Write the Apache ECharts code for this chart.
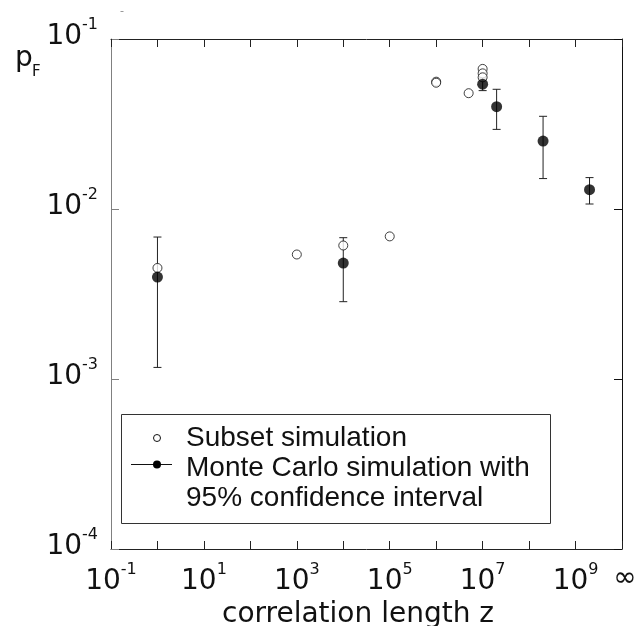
<!DOCTYPE html>
<html>
<head>
<meta charset="utf-8">
<script src="https://cdn.jsdelivr.net/npm/echarts@6/dist/echarts.min.js"></script>
<style>
  html, body { margin: 0; padding: 0; background: #fff; }
  #chart { width: 641px; height: 626px; }
</style>
</head>
<body>
<div id="chart"></div>
<script>
// Subset simulation estimates (correlation length z, failure probability pF)
const subsetZ  = [1, 1e3, 1e4, 1e5, 1e6, 1e6, 5e6, 1e7, 1e7, 1e7];
const subsetPF = [4.5e-3, 5.4e-3, 6.1e-3, 6.9e-3, 0.0561, 0.0553, 0.048, 0.0667, 0.0628, 0.0595];

// Monte Carlo estimates with 95% confidence bounds
const mcZ    = [1, 1e4, 1e7, 2e7, 2e8, 2e9];
const mcPF   = [3.98e-3, 4.81e-3, 0.0542, 0.040, 0.0251, 0.013];
const mcLow  = [1.17e-3, 2.85e-3, 0.0497, 0.0294, 0.0151, 0.0107];
const mcHigh = [6.84e-3, 6.78e-3, 0.059, 0.0506, 0.0351, 0.0153];

// Decade exponents that carry a tick label; the last x decade stands for z = infinity
const xLabelExps = [-1, 1, 3, 5, 7, 9];
const xInfExp = 10;
const yLabelExps = [-4, -3, -2, -1];

const lg = Math.log10;
const FONT = 'DejaVu Sans';
const INK = '#111';

const powRich = {
  b:   { fontFamily: FONT, fontSize: 28, lineHeight: 34, verticalAlign: 'bottom', color: INK },
  s:   { fontFamily: FONT, fontSize: 16, lineHeight: 12, verticalAlign: 'top', color: INK },
  inf: { fontFamily: FONT, fontSize: 28, lineHeight: 34, color: INK, padding: [0, 0, 0, 6] }
};

function xLabel(v) {
  const e = Math.round(v);
  if (e === xInfExp) return '{inf|∞}';
  return xLabelExps.indexOf(e) >= 0 ? '{b|10}{s|' + e + '}' : '';
}
function yLabel(v) {
  const e = Math.round(v);
  return yLabelExps.indexOf(e) >= 0 ? '{b|10}{s|' + e + '}' : '';
}

const subsetData = subsetZ.map((z, i) => [lg(z), lg(subsetPF[i])]);
const mcData = mcZ.map((z, i) => [lg(z), lg(mcPF[i])]);
const barData = mcZ.map((z, i) => [lg(z), lg(mcLow[i]), lg(mcHigh[i])]);

function renderBar(params, api) {
  const x = api.value(0);
  const lo = api.coord([x, api.value(1)]);
  const hi = api.coord([x, api.value(2)]);
  const cap = 4;
  const st = { stroke: '#222', lineWidth: 1 };
  return {
    type: 'group',
    children: [
      { type: 'line', shape: { x1: lo[0], y1: lo[1], x2: hi[0], y2: hi[1] }, style: st },
      { type: 'line', shape: { x1: lo[0] - cap, y1: lo[1], x2: lo[0] + cap, y2: lo[1] }, style: st },
      { type: 'line', shape: { x1: hi[0] - cap, y1: hi[1], x2: hi[0] + cap, y2: hi[1] }, style: st }
    ]
  };
}

function frameTick(color) {
  return { show: true, inside: true, length: 8, lineStyle: { color: color, width: 1 } };
}
function frameLine(color) {
  return { show: true, onZero: false, lineStyle: { color: color, width: 1 } };
}

const option = {
  animation: false,
  backgroundColor: '#fff',
  grid: { left: 111, right: 19, top: 39, bottom: 77, containLabel: false, outerBoundsMode: 'none' },
  xAxis: [
    {
      type: 'value', min: -1, max: 10, interval: 1, position: 'bottom',
      axisLine: frameLine('#222'),
      axisTick: frameTick('#222'),
      splitLine: { show: false },
      axisLabel: { formatter: xLabel, margin: 13, rich: powRich },
      name: 'correlation length z', nameLocation: 'middle', nameGap: 47,
      nameTextStyle: { fontFamily: FONT, fontSize: 28, color: INK, padding: [0, 17, 0, 0] }
    },
    {
      type: 'value', min: -1, max: 10, interval: 1, position: 'top',
      axisLine: frameLine('#222'),
      axisTick: frameTick('#222'),
      splitLine: { show: false },
      axisLabel: { show: false }
    }
  ],
  yAxis: [
    {
      type: 'value', min: -4, max: -1, interval: 1, position: 'left',
      axisLine: frameLine('#808080'),
      axisTick: frameTick('#808080'),
      splitLine: { show: false },
      axisLabel: { formatter: yLabel, margin: 13, rich: powRich, padding: [0, 0, 11, 0] }
    },
    {
      type: 'value', min: -4, max: -1, interval: 1, position: 'right',
      axisLine: frameLine('#111'),
      axisTick: frameTick('#111'),
      splitLine: { show: false },
      axisLabel: { show: false }
    }
  ],
  series: [
    {
      name: 'confidence interval', type: 'custom', renderItem: renderBar,
      data: barData, z: 2, silent: true
    },
    {
      name: 'Subset simulation', type: 'scatter', data: subsetData,
      symbol: 'circle', symbolSize: 9, z: 3,
      itemStyle: { color: '#fff', borderColor: '#111', borderWidth: 1 }
    },
    {
      name: 'Monte Carlo simulation', type: 'scatter', data: mcData,
      symbol: 'circle', symbolSize: 11, z: 4,
      itemStyle: { color: '#000' }
    }
  ],
  graphic: [
    // y-axis title p_F
    { type: 'text', left: 15, top: 45, style: { text: 'p', fontFamily: FONT, fontSize: 28, fill: INK } },
    { type: 'text', left: 32, top: 65, style: { text: 'F', fontFamily: FONT, fontSize: 15, fill: INK } },
    { type: 'line', shape: { x1: 120.5, y1: 11.5, x2: 123.5, y2: 11.5 }, style: { stroke: '#999', lineWidth: 1 } },
    // legend box
    { type: 'rect', shape: { x: 121.5, y: 414.5, width: 429, height: 109 }, style: { fill: '#fff', stroke: '#333', lineWidth: 1 }, z: 10 },
    { type: 'circle', shape: { cx: 157, cy: 438, r: 3.5 }, style: { fill: '#fff', stroke: '#111', lineWidth: 1 }, z: 11 },
    { type: 'line', shape: { x1: 131, y1: 464.5, x2: 172, y2: 464.5 }, style: { stroke: '#111', lineWidth: 1 }, z: 11 },
    { type: 'circle', shape: { cx: 157, cy: 464.5, r: 4 }, style: { fill: '#000' }, z: 11 },
    { type: 'text', x: 186, y: 438, style: { text: 'Subset simulation', fontFamily: 'Liberation Sans', fontSize: 28, fill: INK, verticalAlign: 'middle' }, z: 11 },
    { type: 'text', x: 186, y: 468, style: { text: 'Monte Carlo simulation with', fontFamily: 'Liberation Sans', fontSize: 28, fill: INK, verticalAlign: 'middle' }, z: 11 },
    { type: 'text', x: 186, y: 498, style: { text: '95% confidence interval', fontFamily: 'Liberation Sans', fontSize: 28, fill: INK, verticalAlign: 'middle' }, z: 11 }
  ]
};

const chart = echarts.init(document.getElementById('chart'), null, { renderer: 'canvas' });
chart.setOption(option);
</script>
</body>
</html>
